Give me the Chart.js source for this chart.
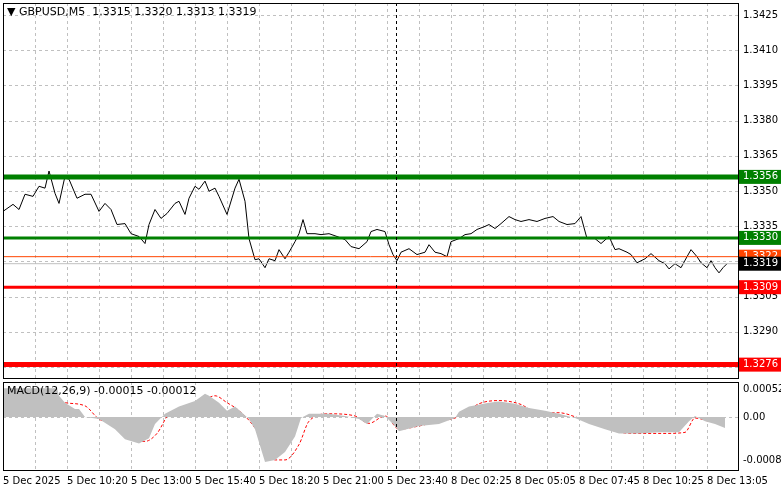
<!DOCTYPE html>
<html>
<head>
<meta charset="utf-8">
<script src="https://cdn.jsdelivr.net/npm/chart.js@4.4.1/dist/chart.umd.min.js"></script>
<style>
  body { margin: 0; background: #fff; width: 781px; height: 489px; overflow: hidden; }
  #main { position: absolute; left: 0; top: 0; }
  #macd { position: absolute; left: 0; top: 380px; }
</style>
</head>
<body>
<canvas id="main" width="781" height="380"></canvas>
<canvas id="macd" width="781" height="109"></canvas>
<script>
// bar index (M5 bars from the left edge) and close price
const priceBars = [0,5,8,11,15,18,21,23,26,28,31,33,37,41,44,48,51,54,57,61,64,68,71,73,76,79,82,86,88,91,93,96,98,101,103,106,108,112,116,118,121,123,126,128,131,133,136,138,141,143,146,148,150,152,156,159,163,167,171,174,178,182,184,187,191,193,195,197,199,203,207,211,213,216,219,222,224,228,231,234,237,241,243,246,249,253,256,259,263,267,271,275,278,282,286,289,292,296,299,303,306,308,312,314,317,321,324,328,331,333,336,339,342,344,347,349,352,354,356,358,360,362];
const priceValues = [1.33413,1.33443,1.33421,1.33486,1.33477,1.33520,1.33512,1.33585,1.33490,1.33447,1.33563,1.33550,1.33469,1.33486,1.33486,1.33413,1.33447,1.33421,1.33357,1.33361,1.33318,1.33306,1.33276,1.33357,1.33421,1.33383,1.33404,1.33447,1.33456,1.33400,1.33469,1.33520,1.33507,1.33542,1.33499,1.33512,1.33477,1.33400,1.33512,1.33550,1.33456,1.33297,1.33207,1.33211,1.33173,1.33211,1.33203,1.33250,1.33211,1.33239,1.33284,1.33318,1.33378,1.33318,1.33318,1.33314,1.33318,1.33306,1.33293,1.33263,1.33254,1.33284,1.33327,1.33336,1.33327,1.33271,1.33229,1.33203,1.33239,1.33254,1.33229,1.33239,1.33271,1.33239,1.33233,1.33220,1.33284,1.33297,1.33314,1.33318,1.33336,1.33349,1.33357,1.33340,1.33361,1.33391,1.33378,1.33370,1.33378,1.33370,1.33383,1.33391,1.33370,1.33357,1.33361,1.33391,1.33297,1.33297,1.33276,1.33306,1.33250,1.33254,1.33239,1.33229,1.33194,1.33211,1.33233,1.33203,1.33190,1.33168,1.33190,1.33173,1.33220,1.33250,1.33220,1.33194,1.33173,1.33203,1.33173,1.33151,1.33173,1.33190];

const histBars = [0,13,27,28,31,36,38,41,48,56,61,68,73,76,81,88,96,101,103,108,112,116,119,123,126,131,136,141,146,149,153,163,171,178,182,187,191,196,198,208,218,226,228,233,243,248,256,263,271,278,286,293,301,308,318,328,338,343,346,351,356,361];
const histValues = [0.00054,0.00054,0.00054,0.0004,0.00027,0.00015,0.00015,0,-0.00004,-0.00023,-0.00042,-0.0005,-0.0004,-0.00013,0.00006,0.0002,0.0003,0.00044,0.0004,0.00027,0.00012,0.0002,0.0001,-0.00004,-0.00023,-0.00085,-0.00081,-0.00066,-0.00037,-0.00002,0.00006,0.00006,0.00002,-0.00004,-0.00013,0.00006,0.00002,-0.00017,-0.00027,-0.00017,-0.00013,-0.00002,0.0001,0.0002,0.00027,0.00029,0.00025,0.00017,0.00012,0.00006,-0.00002,-0.00013,-0.00023,-0.00031,-0.00031,-0.00029,-0.00029,-0.00008,0.00002,-0.00008,-0.00013,-0.00021];

const signalBars = [0,8,21,31,41,48,56,63,71,77,83,91,98,106,112,118,126,131,136,141,148,153,163,176,183,191,198,208,218,226,231,238,248,258,268,278,288,298,306,318,331,341,346,353,361];
const signalValues = [0.00027,0.0004,0.0004,0.00027,0.00021,-0.00004,-0.00013,-0.0004,-0.00046,-0.00031,0.00006,0.00017,0.00025,0.0004,0.00027,0.00012,-0.00021,-0.00056,-0.00081,-0.00081,-0.00052,-0.00008,0.00006,0.00002,-0.00012,0.00002,-0.00023,-0.00017,-0.00008,-0.00002,0.00008,0.00025,0.00031,0.00025,0.00008,0.00008,-0.00002,-0.00013,-0.00027,-0.00031,-0.00031,-0.00029,-0.00002,-0.00008,-0.00013];

const levelValues = [1.3356, 1.3330, 1.3322, 1.3319, 1.3309, 1.3276];
const levelColors = ['#008000', '#008000', '#ff4500', '#c0c0c0', '#ff0000', '#ff0000'];
const levelWidths = [5, 3, 1, 1, 3, 5];
const levelBoxColors = ['#008000', '#008000', '#ff4500', '#000000', '#ff0000', '#ff0000'];

const priceTicks = [1.3425, 1.3410, 1.3395, 1.3380, 1.3365, 1.3350, 1.3335, 1.3320, 1.3305, 1.3290, 1.3275];
const macdTicks = [0.00052, 0, -0.00081];
const timeLabels = ['5 Dec 2025', '5 Dec 10:20', '5 Dec 13:00', '5 Dec 15:40', '5 Dec 18:20', '5 Dec 21:00', '5 Dec 23:40', '8 Dec 02:25', '8 Dec 05:05', '8 Dec 07:45', '8 Dec 10:25', '8 Dec 13:05'];
const sessionBar = 196.5;

const X_MAX = 367.5;
const FONT = { family: 'Tahoma, "DejaVu Sans", sans-serif', size: 10 };
// keep the axis layout, but the visible grid is drawn dashed by the plugin below
const hiddenGrid = { color: 'rgba(0,0,0,0)', drawTicks: false };

const pts = (xs, ys) => xs.map((x, i) => ({ x, y: ys[i] }));

const gridTicks = [];
for (let b = 0; b <= X_MAX; b += 16) gridTicks.push(b);

const fitRight = s => { s.width = 43; s.paddingTop = 0; s.paddingBottom = 0; };

const dashedGrid = {
  id: 'dashedGrid',
  beforeDatasetsDraw(chart, args, opts) {
    const { ctx, chartArea: a, scales } = chart;
    ctx.save();
    ctx.strokeStyle = '#c0c0c0';
    ctx.lineWidth = 1;
    ctx.setLineDash([3, 3]);
    ctx.beginPath();
    gridTicks.forEach(v => {
      const x = Math.round(scales.x.getPixelForValue(v)) + 0.5;
      ctx.moveTo(x, a.top); ctx.lineTo(x, a.bottom);
    });
    opts.yLines.forEach(v => {
      const y = Math.round(scales.y.getPixelForValue(v)) + 0.5;
      ctx.moveTo(a.left, y); ctx.lineTo(a.right, y);
    });
    ctx.stroke();
    ctx.restore();
  }
};

const frameAndMarks = {
  id: 'frameAndMarks',
  afterDatasetsDraw(chart, args, opts) {
    const { ctx, chartArea: a, scales } = chart;
    ctx.save();
    const sx = scales.x.getPixelForValue(sessionBar);
    ctx.strokeStyle = '#000';
    ctx.lineWidth = 1;
    ctx.setLineDash([3, 3]);
    ctx.beginPath();
    ctx.moveTo(Math.round(sx) + 0.5, a.top);
    ctx.lineTo(Math.round(sx) + 0.5, a.bottom);
    ctx.stroke();
    ctx.setLineDash([]);
    ctx.strokeRect(a.left + 0.5, a.top + 0.5, a.right - a.left, a.bottom - a.top);
    ctx.font = '11px Tahoma, "DejaVu Sans", sans-serif';
    ctx.fillStyle = '#000';
    ctx.textBaseline = 'middle';
    ctx.fillText(opts.title, a.left + 4, a.top + 9);
    if (opts.boxes) {
      levelValues.forEach((v, i) => {
        const y = scales.y.getPixelForValue(v);
        ctx.fillStyle = levelBoxColors[i];
        ctx.fillRect(a.right + 1, y - 7, 42, 14);
        ctx.fillStyle = '#fff';
        ctx.font = '10px Tahoma, "DejaVu Sans", sans-serif';
        ctx.fillText(v.toFixed(4), a.right + 5, y);
      });
    }
    ctx.restore();
  }
};

new Chart(document.getElementById('main'), {
  type: 'line',
  data: {
    datasets: [
      ...levelValues.map((v, i) => ({
        data: [{ x: 0, y: v }, { x: X_MAX, y: v }],
        borderColor: levelColors[i],
        borderWidth: levelWidths[i],
        pointRadius: 0
      })),
      {
        data: pts(priceBars, priceValues),
        borderColor: '#000',
        borderWidth: 1,
        pointRadius: 0,
        tension: 0
      }
    ]
  },
  options: {
    responsive: false,
    animation: false,
    layout: { padding: { left: 3, top: 3, right: 0, bottom: 0 } },
    plugins: {
      legend: { display: false },
      tooltip: { enabled: false },
      dashedGrid: { yLines: priceTicks },
      frameAndMarks: { title: '▼ GBPUSD,M5  1.3315 1.3320 1.3313 1.3319', boxes: true }
    },
    scales: {
      x: {
        type: 'linear', min: 0, max: X_MAX,
        grid: hiddenGrid, border: { display: false },
        ticks: { display: false },
        afterFit: s => { s.height = 2; s.paddingLeft = 0; s.paddingRight = 0; }
      },
      y: {
        position: 'right',
        min: 1.32703, max: 1.34301,
        grid: hiddenGrid, border: { display: false },
        afterBuildTicks: s => { s.ticks = priceTicks.map(v => ({ value: v })); },
        ticks: { color: '#000', font: FONT, padding: 5, callback: v => v.toFixed(4) },
        afterFit: fitRight
      }
    }
  },
  plugins: [dashedGrid, frameAndMarks]
});

new Chart(document.getElementById('macd'), {
  type: 'line',
  data: {
    datasets: [
      {
        data: pts(histBars, histValues),
        borderWidth: 0,
        backgroundColor: '#c0c0c0',
        fill: 'origin',
        pointRadius: 0
      },
      {
        data: pts(signalBars, signalValues),
        borderColor: '#ff0000',
        borderWidth: 1,
        borderDash: [3, 2],
        pointRadius: 0,
        cubicInterpolationMode: 'monotone'
      }
    ]
  },
  options: {
    responsive: false,
    animation: false,
    layout: { padding: { left: 3, top: 2, right: 0, bottom: 0 } },
    plugins: {
      legend: { display: false },
      tooltip: { enabled: false },
      dashedGrid: { yLines: [0] },
      frameAndMarks: { title: 'MACD(12,26,9) -0.00015 -0.00012', boxes: false }
    },
    scales: {
      x: {
        type: 'linear', min: 0, max: X_MAX,
        grid: hiddenGrid, border: { display: false },
        afterBuildTicks: s => { s.ticks = gridTicks.map(v => ({ value: v })); },
        ticks: {
          color: '#000', font: FONT, padding: 5, maxRotation: 0, autoSkip: false, align: 'start',
          callback: v => (v % 32 === 0 ? timeLabels[v / 32] : '')
        },
        afterFit: s => { s.height = 19; s.paddingLeft = 0; s.paddingRight = 0; }
      },
      y: {
        position: 'right',
        min: -0.001, max: 0.00066,
        grid: hiddenGrid, border: { display: false },
        afterBuildTicks: s => { s.ticks = macdTicks.map(v => ({ value: v })); },
        ticks: { color: '#000', font: FONT, padding: 5, callback: v => (v === 0 ? '0.00' : v.toFixed(5)) },
        afterFit: fitRight
      }
    }
  },
  plugins: [dashedGrid, frameAndMarks]
});
</script>
</body>
</html>
